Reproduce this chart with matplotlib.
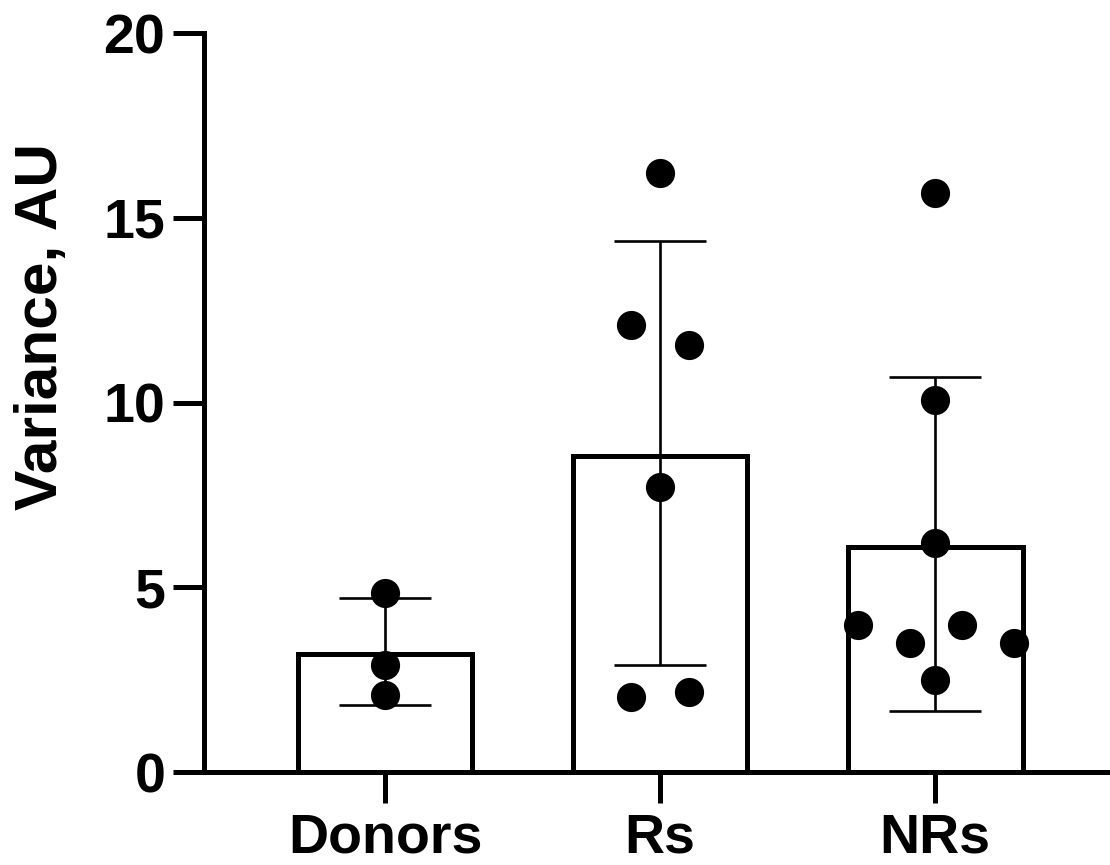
import matplotlib
matplotlib.use("Agg")
import matplotlib.pyplot as plt
import numpy as np

plt.rcParams['font.family'] = ['Liberation Sans', 'DejaVu Sans']
plt.rcParams['font.weight'] = 'bold'

categories = ["Donors", "Rs", "NRs"]
bar_means = [3.2, 8.55, 6.08]
err_low = [1.82, 2.9, 1.65]
err_high = [4.72, 14.37, 10.7]

donors_vals = [4.84, 2.9, 2.08]
rs_vals = [16.21, 12.1, 11.56, 7.71, 2.03, 2.17]
nrs_vals = [15.67, 10.07, 6.2, 3.98, 3.49, 3.98, 3.49, 2.49]

donors_off = [0.0, 0.0, 0.0]
rs_off = [0.0, -0.105, 0.105, 0.0, -0.105, 0.105]
nrs_off = [0.0, 0.0, 0.0, -0.28, -0.09, 0.098, 0.287, 0.0]

yticks = [0, 5, 10, 15, 20]

fig = plt.figure(figsize=(11.1, 8.65), dpi=100)
ax = fig.add_axes([0.1838, 0.1075, 0.8162, 0.8543])

x = np.arange(len(categories))
ax.bar(x, bar_means, width=0.636, color='white', edgecolor='black',
       linewidth=3.6, zorder=1)

means = np.array(bar_means)
yerr = np.vstack([means - np.array(err_low), np.array(err_high) - means])
ax.errorbar(x, means, yerr=yerr, fmt='none', ecolor='black',
            elinewidth=1.9, capsize=33, capthick=1.9, zorder=2)

for i, (vals, offs) in enumerate([(donors_vals, donors_off),
                                   (rs_vals, rs_off),
                                   (nrs_vals, nrs_off)]):
    ax.plot(np.array(offs) + i, vals, 'o', color='black',
            markersize=21, markeredgewidth=0, zorder=3, clip_on=False)

ax.set_xlim(-0.658, 2.636)
ax.set_ylim(0, 20)
ax.set_yticks(yticks)
ax.set_xticks(x)
ax.set_xticklabels(categories)

for s in ['top', 'right']:
    ax.spines[s].set_visible(False)
for s in ['left', 'bottom']:
    ax.spines[s].set_linewidth(3.6)

ax.tick_params(axis='both', length=22, width=3.6, labelsize=40)
ax.tick_params(axis='y', pad=6)
ax.tick_params(axis='x', pad=7, labelsize=40)
for lab in ax.get_xticklabels() + ax.get_yticklabels():
    lab.set_fontweight('bold')

fig.text(0.0374, 0.622, "Variance, AU", fontsize=43.5, fontweight='bold',
         rotation=90, ha='center', va='center')

fig.savefig("out.png", dpi=100)
